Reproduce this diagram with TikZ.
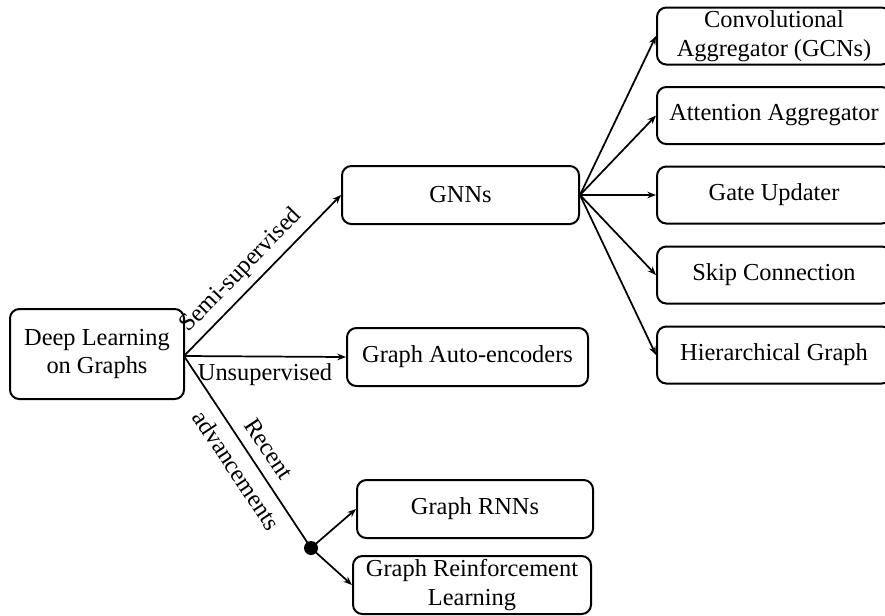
\documentclass[tikz,border=0pt]{standalone}
\usepackage{fontspec}
\setmainfont{Liberation Serif}
\usetikzlibrary{arrows.meta}
\begin{document}
\begin{tikzpicture}[x=0.75pt,y=-0.75pt,
  font=\fontsize{18.3}{21.5}\selectfont,
  box/.style={draw,line width=1.5pt,rounded corners=7pt,inner sep=0pt,
              align=center,minimum height=43.5pt},
  rbox/.style={box,minimum width=175.5pt,minimum height=42.75pt},
  link/.style={line width=1.3pt,-{Stealth[length=6.5pt,width=5pt]}},
  plain/.style={line width=1.3pt}]
\useasboundingbox (0,0) rectangle (885,615);

% main topics
\node[box,minimum width=130.5pt,minimum height=67.5pt] (dl) at (97,354) {Deep Learning\\on Graphs};
\node[box,minimum width=177.75pt] (gnn) at (460.5,195) {GNNs};
\node[box,minimum width=180.75pt] (gae) at (467.5,357) {Graph Auto-encoders};
\node[box,minimum width=177pt] (rnn) at (475,509) {Graph RNNs};
\node[box,minimum width=178.5pt] (grl) at (472,585) {Graph Reinforcement\\Learning};

% GNN components
\node[rbox] (conv) at (774,36) {Convolutional\\Aggregator (GCNs)};
\node[rbox] (att)  at (774,115.5) {Attention Aggregator};
\node[rbox] (gate) at (774,195) {Gate Updater};
\node[rbox] (skip) at (774,275) {Skip Connection};
\node[rbox] (hier) at (774,355) {Hierarchical Graph};

% branching point for recent advancements
\coordinate (src) at (184,356);
\node[circle,fill=black,inner sep=0pt,minimum size=10.5pt] (dot) at (311,548) {};

\draw[link] (src) -- node[pos=0.45,above,sloped,inner sep=5pt] {Semi-supervised} (gnn.west);
\draw[link] (src) -- node[midway,below,inner sep=5pt] {Unsupervised} (gae.west);
\draw[plain] (src) -- node[pos=0.54,sloped,align=center,inner sep=0pt,font=\fontsize{18.3}{29}\selectfont] {Recent\\advancements} (dot.center);

\draw[link] (dot.center) -- (rnn.west);
\draw[link] (dot.center) -- (grl.west);

\foreach \t in {conv,att,gate,skip,hier}
  \draw[link] (gnn.east) -- (\t.west);
\end{tikzpicture}
\end{document}
